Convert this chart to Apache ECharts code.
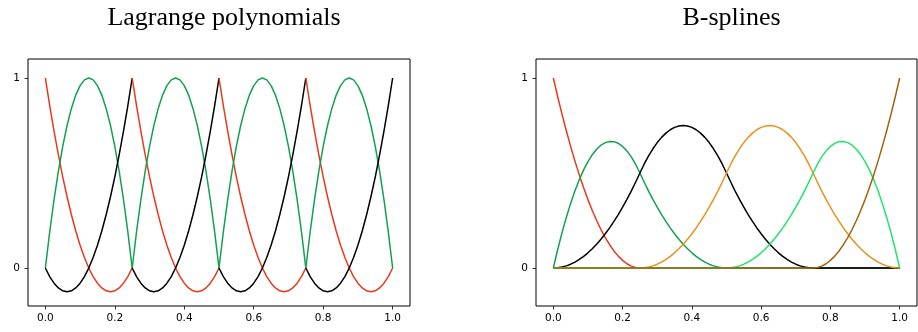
<!DOCTYPE html>
<html>
<head>
<meta charset="utf-8">
<script src="https://cdn.jsdelivr.net/npm/echarts@6/dist/echarts.min.js"></script>
<style>html,body{margin:0;padding:0;background:#fff}#c{width:918px;height:332px}</style>
</head>
<body>
<div id="c"></div>
<script>
// sample positions along x (step 0.0125)
const xGrid = [
  0, 0.0125, 0.025, 0.0375, 0.05, 0.0625, 0.075, 0.0875, 0.1, 0.1125, 0.125, 0.1375, 0.15, 0.1625, 0.175, 0.1875, 0.2, 0.2125, 0.225, 0.2375,
  0.25, 0.2625, 0.275, 0.2875, 0.3, 0.3125, 0.325, 0.3375, 0.35, 0.3625, 0.375, 0.3875, 0.4, 0.4125, 0.425, 0.4375, 0.45, 0.4625, 0.475, 0.4875,
  0.5, 0.5125, 0.525, 0.5375, 0.55, 0.5625, 0.575, 0.5875, 0.6, 0.6125, 0.625, 0.6375, 0.65, 0.6625, 0.675, 0.6875, 0.7, 0.7125, 0.725, 0.7375,
  0.75, 0.7625, 0.775, 0.7875, 0.8, 0.8125, 0.825, 0.8375, 0.85, 0.8625, 0.875, 0.8875, 0.9, 0.9125, 0.925, 0.9375, 0.95, 0.9625, 0.975, 0.9875,
  1.0];
const xTicks = [0, 0.2, 0.4, 0.6, 0.8, 1.0];
const yTicks = [0, 1];
const titles = ['Lagrange polynomials', 'B-splines'];

// Lagrange: start index of each element in xGrid, and the shape read on each element (21 samples)
const lagElements = [0, 20, 40, 60];
const lagRed   = [1, 0.855, 0.72, 0.595, 0.48, 0.375, 0.28, 0.195, 0.12, 0.055, 0, -0.045, -0.08, -0.105, -0.12, -0.125, -0.12, -0.105, -0.08, -0.045, 0];
const lagGreen = [0, 0.19, 0.36, 0.51, 0.64, 0.75, 0.84, 0.91, 0.96, 0.99, 1, 0.99, 0.96, 0.91, 0.84, 0.75, 0.64, 0.51, 0.36, 0.19, 0];
const lagBlack = [0, -0.045, -0.08, -0.105, -0.12, -0.125, -0.12, -0.105, -0.08, -0.045, 0, 0.055, 0.12, 0.195, 0.28, 0.375, 0.48, 0.595, 0.72, 0.855, 1];

// B-splines, values at every xGrid position
const bsRed = [
  1, 0.9025, 0.81, 0.7225, 0.64, 0.5625, 0.49, 0.4225, 0.36, 0.3025, 0.25, 0.2025, 0.16, 0.1225, 0.09, 0.0625, 0.04, 0.0225, 0.01, 0.0025,
  0, 0, 0, 0, 0, 0, 0, 0, 0, 0, 0, 0, 0, 0, 0, 0, 0, 0, 0, 0,
  0, 0, 0, 0, 0, 0, 0, 0, 0, 0, 0, 0, 0, 0, 0, 0, 0, 0, 0, 0,
  0, 0, 0, 0, 0, 0, 0, 0, 0, 0, 0, 0, 0, 0, 0, 0, 0, 0, 0, 0,
  0];
const bsGreen = [
  0, 0.09625, 0.185, 0.26625, 0.34, 0.40625, 0.465, 0.51625, 0.56, 0.59625, 0.625, 0.64625, 0.66, 0.66625, 0.665, 0.65625, 0.64, 0.61625, 0.585, 0.54625,
  0.5, 0.45125, 0.405, 0.36125, 0.32, 0.28125, 0.245, 0.21125, 0.18, 0.15125, 0.125, 0.10125, 0.08, 0.06125, 0.045, 0.03125, 0.02, 0.01125, 0.005, 0.00125,
  0, 0, 0, 0, 0, 0, 0, 0, 0, 0, 0, 0, 0, 0, 0, 0, 0, 0, 0, 0,
  0, 0, 0, 0, 0, 0, 0, 0, 0, 0, 0, 0, 0, 0, 0, 0, 0, 0, 0, 0,
  0];
const bsBlack = [
  0, 0.00125, 0.005, 0.01125, 0.02, 0.03125, 0.045, 0.06125, 0.08, 0.10125, 0.125, 0.15125, 0.18, 0.21125, 0.245, 0.28125, 0.32, 0.36125, 0.405, 0.45125,
  0.5, 0.5475, 0.59, 0.6275, 0.66, 0.6875, 0.71, 0.7275, 0.74, 0.7475, 0.75, 0.7475, 0.74, 0.7275, 0.71, 0.6875, 0.66, 0.6275, 0.59, 0.5475,
  0.5, 0.45125, 0.405, 0.36125, 0.32, 0.28125, 0.245, 0.21125, 0.18, 0.15125, 0.125, 0.10125, 0.08, 0.06125, 0.045, 0.03125, 0.02, 0.01125, 0.005, 0.00125,
  0, 0, 0, 0, 0, 0, 0, 0, 0, 0, 0, 0, 0, 0, 0, 0, 0, 0, 0, 0,
  0];
const bsOrange = [
  0, 0, 0, 0, 0, 0, 0, 0, 0, 0, 0, 0, 0, 0, 0, 0, 0, 0, 0, 0,
  0, 0.00125, 0.005, 0.01125, 0.02, 0.03125, 0.045, 0.06125, 0.08, 0.10125, 0.125, 0.15125, 0.18, 0.21125, 0.245, 0.28125, 0.32, 0.36125, 0.405, 0.45125,
  0.5, 0.5475, 0.59, 0.6275, 0.66, 0.6875, 0.71, 0.7275, 0.74, 0.7475, 0.75, 0.7475, 0.74, 0.7275, 0.71, 0.6875, 0.66, 0.6275, 0.59, 0.5475,
  0.5, 0.45125, 0.405, 0.36125, 0.32, 0.28125, 0.245, 0.21125, 0.18, 0.15125, 0.125, 0.10125, 0.08, 0.06125, 0.045, 0.03125, 0.02, 0.01125, 0.005, 0.00125,
  0];
const bsLime = [
  0, 0, 0, 0, 0, 0, 0, 0, 0, 0, 0, 0, 0, 0, 0, 0, 0, 0, 0, 0,
  0, 0, 0, 0, 0, 0, 0, 0, 0, 0, 0, 0, 0, 0, 0, 0, 0, 0, 0, 0,
  0, 0.00125, 0.005, 0.01125, 0.02, 0.03125, 0.045, 0.06125, 0.08, 0.10125, 0.125, 0.15125, 0.18, 0.21125, 0.245, 0.28125, 0.32, 0.36125, 0.405, 0.45125,
  0.5, 0.54625, 0.585, 0.61625, 0.64, 0.65625, 0.665, 0.66625, 0.66, 0.64625, 0.625, 0.59625, 0.56, 0.51625, 0.465, 0.40625, 0.34, 0.26625, 0.185, 0.09625,
  0];
const bsBrown = [
  0, 0, 0, 0, 0, 0, 0, 0, 0, 0, 0, 0, 0, 0, 0, 0, 0, 0, 0, 0,
  0, 0, 0, 0, 0, 0, 0, 0, 0, 0, 0, 0, 0, 0, 0, 0, 0, 0, 0, 0,
  0, 0, 0, 0, 0, 0, 0, 0, 0, 0, 0, 0, 0, 0, 0, 0, 0, 0, 0, 0,
  0, 0.0025, 0.01, 0.0225, 0.04, 0.0625, 0.09, 0.1225, 0.16, 0.2025, 0.25, 0.3025, 0.36, 0.4225, 0.49, 0.5625, 0.64, 0.7225, 0.81, 0.9025,
  1];

const COL = {red:'#e8391d', green:'#12a150', black:'#000000', orange:'#e8911c', lime:'#22e36c', brown:'#a1620f'};

const chart = echarts.init(document.getElementById('c'), null, {renderer:'canvas'});

function pairs(xs, ys){ return xs.map((x,i)=>[x, ys[i]]); }
function line(idx, data, color){
  return {type:'line', xAxisIndex:idx, yAxisIndex:idx, data:data, smooth:false, showSymbol:false,
          symbol:'none', lineStyle:{color:color, width:1.5, join:'round'}, itemStyle:{color:color}, animation:false, z:2};
}

const series = [];
lagElements.forEach(s => {
  const xs = xGrid.slice(s, s + 21);
  series.push(line(0, pairs(xs, lagRed), COL.red));
  series.push(line(0, pairs(xs, lagGreen), COL.green));
  series.push(line(0, pairs(xs, lagBlack), COL.black));
});
[[bsRed,COL.red],[bsGreen,COL.green],[bsBlack,COL.black],[bsOrange,COL.orange],[bsLime,COL.lime],[bsBrown,COL.brown]]
  .forEach(([ys,c]) => series.push(line(1, pairs(xGrid, ys), c)));

const lbl = {color:'#000', fontFamily:'DejaVu Sans', fontSize:10.5};
function xAx(i){
  return {type:'value', gridIndex:i, min:-0.05, max:1.05,
    axisLine:{show:false, onZero:false}, splitLine:{show:false},
    axisTick:{show:true, inside:false, length:3.5, lineStyle:{color:'#000', width:0.8}, customValues:xTicks},
    axisLabel:Object.assign({margin:7, customValues:xTicks, formatter:v=>v.toFixed(1)}, lbl)};
}
function yAx(i){
  return {type:'value', gridIndex:i, min:-0.2, max:1.1,
    axisLine:{show:false, onZero:false}, splitLine:{show:false},
    axisTick:{show:true, inside:false, length:3.5, lineStyle:{color:'#000', width:0.8}, customValues:yTicks},
    axisLabel:Object.assign({margin:8, customValues:yTicks, formatter:v=>String(Math.round(v))}, lbl)};
}

const ttl = {fontFamily:'Liberation Serif', fontWeight:'normal', fontSize:26, color:'#000'};
chart.setOption({
  animation:false,
  backgroundColor:'#fff',
  title:[
    {text:titles[0], left:219, top:0, textAlign:'center', textStyle:ttl},
    {text:titles[1], left:726.5, top:0, textAlign:'center', textStyle:ttl}
  ],
  grid:[
    {left:28, top:59, width:382, height:247, show:true, borderColor:'#000', borderWidth:1, backgroundColor:'transparent'},
    {left:536, top:59, width:381, height:247, show:true, borderColor:'#000', borderWidth:1, backgroundColor:'transparent'}
  ],
  xAxis:[xAx(0), xAx(1)],
  yAxis:[yAx(0), yAx(1)],
  series:series
});
</script>
</body>
</html>
